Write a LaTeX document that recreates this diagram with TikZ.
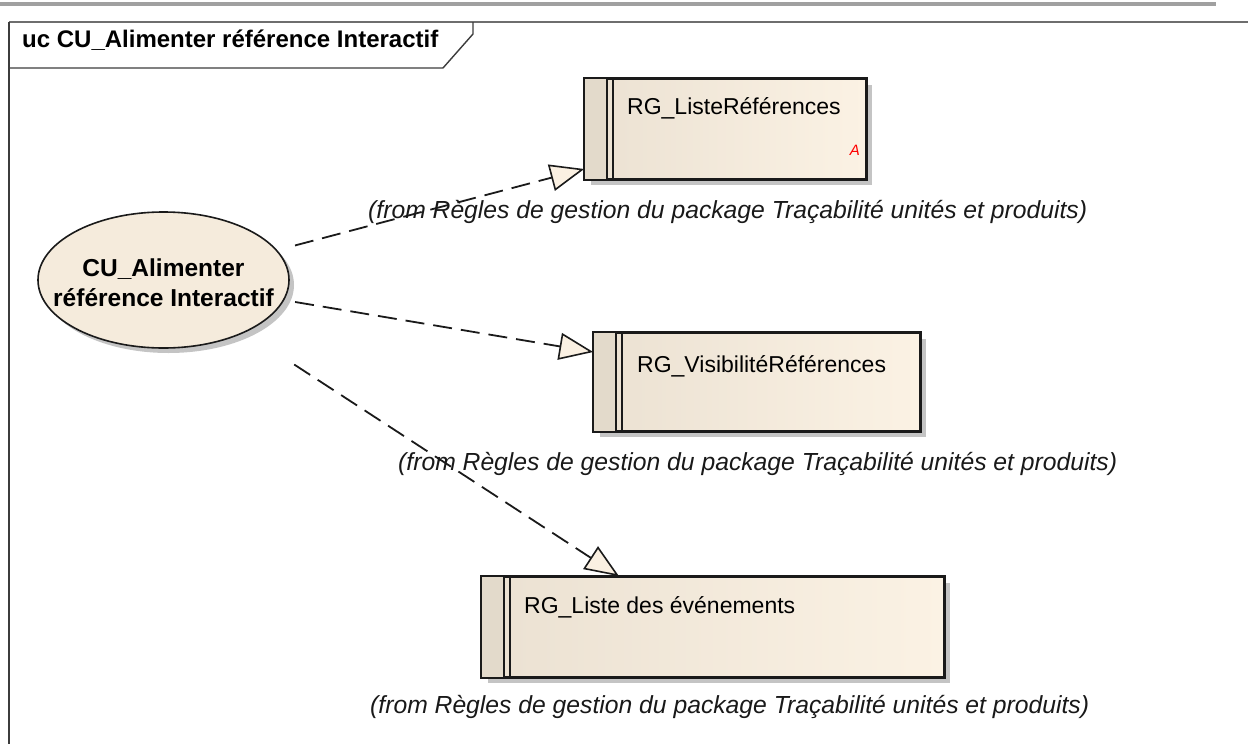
\documentclass[tikz,border=0pt]{standalone}
\usepackage{fontspec}
\setmainfont{Liberation Sans}
\usetikzlibrary{arrows.meta,shapes.geometric,shadows}
\definecolor{creamR}{HTML}{FBF2E4}
\definecolor{creamL}{HTML}{EBE1D2}
\definecolor{stripeC}{HTML}{E3DACB}
\definecolor{ellC}{HTML}{F5EBDC}
\definecolor{tipC}{HTML}{FAF0E2}
\definecolor{barC}{HTML}{A0A0A0}
\definecolor{frameC}{HTML}{6E6E6E}
\definecolor{lineC}{HTML}{1A1A1A}
\definecolor{shadowC}{HTML}{C4C4C4}
\begin{document}
\begin{tikzpicture}[x=1pt,y=-1pt,
  rgbox/.style={draw=lineC, line width=1.6pt, left color=creamL, right color=creamR,
    general shadow={fill=shadowC, shadow xshift=6pt, shadow yshift=-6pt},
    inner sep=0pt, minimum height=100},
  boxtext/.style={anchor=base west, inner sep=0pt, font=\fontsize{23}{28}\selectfont, text=black},
  fromlabel/.style={anchor=base west, inner sep=0pt, font=\fontsize{24.7}{28}\selectfont\itshape, text=black!90},
  dep/.style={draw=lineC, line width=1.8pt, dash pattern=on 19pt off 9pt, shorten <=6pt,
    -{Triangle[length=34pt,width=27pt,fill=tipC,line width=1.6pt]}},
  stripeline/.style={draw=lineC, line width=1.6pt}
]
\useasboundingbox (0,0) rectangle (1248,744);
% top bar and frame
\fill[barC] (0,2) rectangle (1216,6);
\draw[frameC, line width=1.6pt] (9,22) -- (1248,22);
\draw[lineC!85, line width=1.6pt] (9,22) -- (9,744);
\draw[lineC!85, line width=1.4pt] (9,68) -- (443,68) -- (473,34) -- (473,22);
\node[anchor=base west, inner sep=0pt, font=\fontsize{24}{28}\selectfont\bfseries] (title) at (22,47) {uc CU\_Alimenter référence Interactif};

% use case
\node[ellipse, draw=lineC, line width=1.6pt, fill=ellC, minimum width=251, minimum height=136, inner sep=0pt,
  general shadow={fill=shadowC, shadow xshift=5pt, shadow yshift=-5pt}] (uc) at (163.5,280) {};
\node[inner sep=0pt, minimum width=251, minimum height=180] (ucb) at (163.5,280) {};
\node[align=center, inner sep=0pt, font=\fontsize{24.5}{30}\selectfont\bfseries] (uct) at (163.5,283) {CU\_Alimenter\\référence Interactif};

% boxes
\node[rgbox, minimum width=281] (b1) at (725.5,129) {};
\node[rgbox, minimum width=326, minimum height=98] (b2) at (757,382) {};
\node[rgbox, minimum width=462] (b3) at (713,627) {};
\foreach \n in {b1,b2,b3} {
  \fill[stripeC] ([shift={(0.8pt,-0.8pt)}]\n.north west) rectangle ([shift={(23pt,0.8pt)}]\n.south west);
  \draw[stripeline] ([xshift=23pt]\n.north west) -- ([xshift=23pt]\n.south west);
  \draw[stripeline] ([xshift=28.5pt]\n.north west) -- ([xshift=28.5pt]\n.south west);
  \draw[stripeline] (\n.north west) rectangle (\n.south east);
}
\node[boxtext] (b1t) at (627,114) {RG\_ListeRéférences};
\node[anchor=base east, inner sep=0pt, font=\fontsize{15}{18}\selectfont\itshape, text=red] (b1a) at (860,155) {A};
\node[boxtext] (b2t) at (637,372) {RG\_VisibilitéRéférences};
\node[boxtext] (b3t) at (524,613) {RG\_Liste des événements};

% labels
\node[fromlabel] (l1) at (368,218) {(from Règles de gestion du package Traçabilité unités et produits)};
\node[fromlabel] (l2) at (398,470) {(from Règles de gestion du package Traçabilité unités et produits)};
\node[fromlabel] (l3) at (370,713) {(from Règles de gestion du package Traçabilité unités et produits)};

% connectors
\coordinate (t1) at ([yshift=-40pt]b1.west);
\coordinate (t2) at ([yshift=30pt]b2.west);
\coordinate (t3) at ([xshift=-94pt]b3.north);
\draw[dep] (ucb) -- (t1);
\draw[dep] (ucb) -- (t2);
\draw[dep] (ucb) -- (t3);
\end{tikzpicture}
\end{document}
